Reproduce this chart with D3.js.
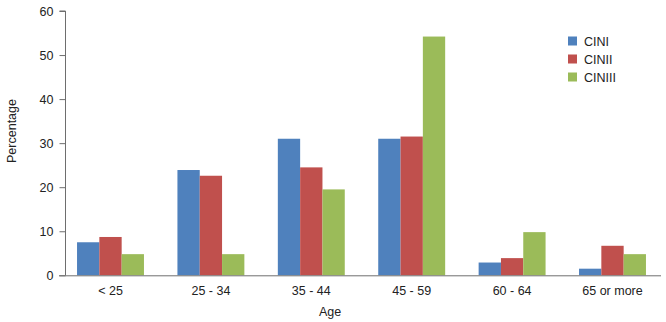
<!DOCTYPE html>
<html>
<head>
<meta charset="utf-8">
<script src="https://cdn.jsdelivr.net/npm/d3@7"></script>
<style>
  html, body { margin: 0; padding: 0; background: #fff; }
  svg { display: block; font-family: "Liberation Sans", Arial, sans-serif; }
</style>
</head>
<body>
<svg id="chart" width="666" height="322"></svg>
<script>
// Age groups and CIN grade percentages
const categories = ["< 25", "25 - 34", "35 - 44", "45 - 59", "60 - 64", "65 or more"];
const seriesNames = ["CINI", "CINII", "CINIII"];
const cin1 = [7.5, 23.9, 31.0, 31.0, 2.9, 1.5];
const cin2 = [8.7, 22.6, 24.5, 31.5, 3.9, 6.7];
const cin3 = [4.8, 4.8, 19.5, 54.2, 9.8, 4.8];
const yTicks = [0, 10, 20, 30, 40, 50, 60];
const colors = ["#4F81BD", "#C0504D", "#9BBB59"];

const seriesValues = [cin1, cin2, cin3];

const svg = d3.select("#chart");
const axisColor = "#6e6e6e";

const y = d3.scaleLinear().domain([0, 60]).range([275.3, 11]);
const x = d3.scaleBand().domain(categories).range([60.3, 662.7])
  .paddingInner(1 / 3).paddingOuter(1 / 6);
const xs = d3.scaleBand().domain(seriesNames).range([0, x.bandwidth()]);

// Bars
const groups = svg.append("g").selectAll("g")
  .data(categories)
  .join("g")
  .attr("transform", d => `translate(${x(d)},0)`);

groups.selectAll("rect")
  .data((d, i) => seriesNames.map((s, j) => ({ s, j, v: seriesValues[j][i] })))
  .join("rect")
  .attr("x", d => xs(d.s))
  .attr("width", xs.bandwidth())
  .attr("y", d => y(d.v))
  .attr("height", d => y(0) - y(d.v))
  .attr("fill", d => colors[d.j]);

// Y axis
const yAxis = svg.append("g")
  .attr("transform", "translate(65.5,0)")
  .call(d3.axisLeft(y).tickValues(yTicks).tickSize(6).tickPadding(6));
yAxis.select(".domain").attr("stroke", axisColor).attr("d", `M-6,${y(60)}H0V${y(0)}`);
yAxis.selectAll(".tick line").attr("stroke", axisColor);
yAxis.selectAll(".tick text")
  .attr("font-size", 12.5)
  .attr("fill", "#222")
  .attr("font-family", "Liberation Sans, Arial, sans-serif");

// X axis baseline
svg.append("line")
  .attr("x1", 59).attr("x2", 661)
  .attr("y1", y(0) + 0.5).attr("y2", y(0) + 0.5)
  .attr("stroke", axisColor).attr("stroke-width", 1);

// Category labels
svg.append("g").selectAll("text")
  .data(categories)
  .join("text")
  .attr("x", d => x(d) + x.bandwidth() / 2)
  .attr("y", 294.5)
  .attr("text-anchor", "middle")
  .attr("font-size", 12.5)
  .attr("fill", "#222")
  .text(d => d);

// Axis titles
svg.append("text")
  .attr("x", 330).attr("y", 316)
  .attr("text-anchor", "middle")
  .attr("font-size", 12.5)
  .attr("fill", "#222")
  .text("Age");

svg.append("text")
  .attr("transform", "translate(16,131) rotate(-90)")
  .attr("text-anchor", "middle")
  .attr("font-size", 12.5)
  .attr("fill", "#222")
  .text("Percentage");

// Legend
const legend = svg.append("g").selectAll("g")
  .data(seriesNames)
  .join("g")
  .attr("transform", (d, i) => `translate(568,${41 + i * 18})`);
legend.append("rect")
  .attr("x", 0).attr("y", -4.5)
  .attr("width", 9).attr("height", 9)
  .attr("fill", (d, i) => colors[i]);
legend.append("text")
  .attr("x", 16).attr("y", 4.5)
  .attr("font-size", 12.5)
  .attr("fill", "#222")
  .text(d => d);
</script>
</body>
</html>
